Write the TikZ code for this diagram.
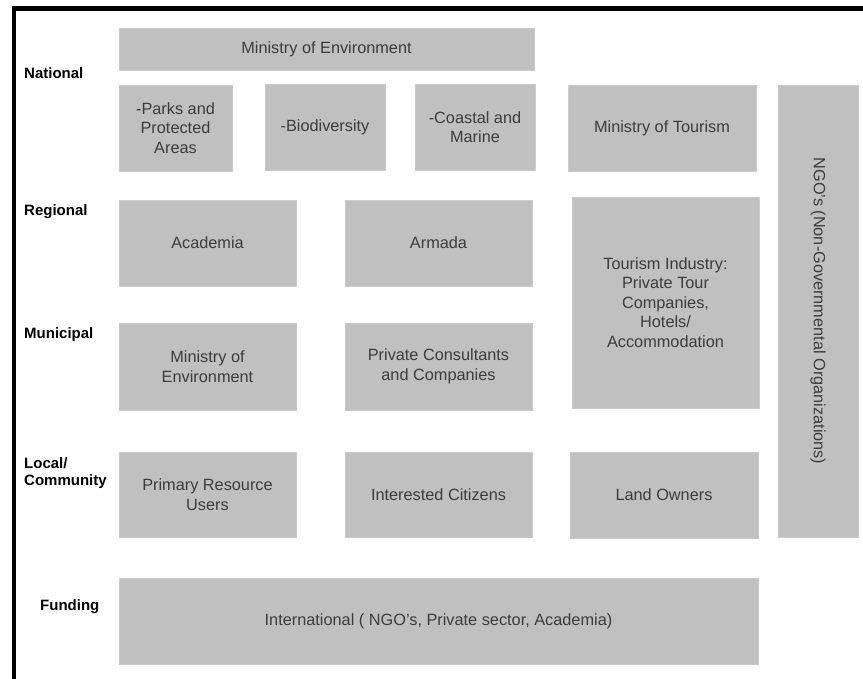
\documentclass[tikz,border=0pt]{standalone}
\usepackage{fontspec}
\setmainfont{Liberation Sans}
\definecolor{boxgray}{HTML}{C0C0C0}
\definecolor{boxedge}{HTML}{CBCBCB}
\definecolor{txtgray}{HTML}{3C3C3C}
\begin{document}
\begin{tikzpicture}[x=1pt,y=-1pt,
  box/.style={fill=boxgray, draw=boxedge, line width=0.6pt, inner sep=2pt, align=center,
    text=txtgray, font=\fontsize{16.3}{19.5}\selectfont},
  lvl/.style={anchor=west, align=left, text=black, inner sep=0pt,
    font=\fontsize{15}{17.5}\selectfont\bfseries}]
\useasboundingbox (0,0) rectangle (863,679);
\fill[white] (0,0) rectangle (863,679);
% frame
\draw[line width=5pt] (12,8.5) -- (863,8.5);
\draw[line width=4.5pt] (14,6) -- (14,679);
% level labels
\node[lvl] (lnat) at (24,73) {National};
\node[lvl] (lreg) at (24,212) {Regional};
\node[lvl] (lmun) at (24,335) {Municipal};
\node[lvl] (lloc) at (24,473) {Local/\\Community};
\node[lvl] (lfun) at (40,607) {Funding};
% boxes
\node[box, minimum width=415pt, minimum height=42pt] (menv) at (326.5,49) {Ministry of Environment};
\node[box, minimum width=113pt, minimum height=86pt] (parks) at (175.5,128) {-Parks and\\Protected\\Areas};
\node[box, minimum width=120pt, minimum height=86pt] (bio) at (325,127) {-Biodiversity};
\node[box, minimum width=120pt, minimum height=86pt] (coast) at (475,127) {-Coastal and\\Marine};
\node[box, minimum width=188pt, minimum height=86pt] (tour) at (662,128) {Ministry of Tourism};
\node[box, rotate=-90, minimum width=452pt, minimum height=80pt] (ngo) at (818,311) {NGO's (Non-Governmental Organizations)};
\node[box, minimum width=177pt, minimum height=86pt] (acad) at (207.5,243) {Academia};
\node[box, minimum width=187pt, minimum height=86pt] (armada) at (438.5,243) {Armada};
\node[box, minimum width=187pt, minimum height=211pt] (tind) at (665.5,302.5) {Tourism Industry:\\Private Tour\\Companies,\\Hotels/\\Accommodation};
\node[box, minimum width=177pt, minimum height=87pt] (menv2) at (207.5,366.5) {Ministry of\\Environment};
\node[box, minimum width=187pt, minimum height=87pt] (priv) at (438.5,366.5) {Private Consultants\\and Companies};
\node[box, minimum width=177pt, minimum height=85pt] (prim) at (207.5,494.5) {Primary Resource\\Users};
\node[box, minimum width=187pt, minimum height=85pt] (cit) at (438.5,494.5) {Interested Citizens};
\node[box, minimum width=188pt, minimum height=86pt] (land) at (664,495) {Land Owners};
\node[box, minimum width=639pt, minimum height=86pt] (intl) at (438.5,621) {International ( NGO's, Private sector, Academia)};
\end{tikzpicture}
\end{document}
